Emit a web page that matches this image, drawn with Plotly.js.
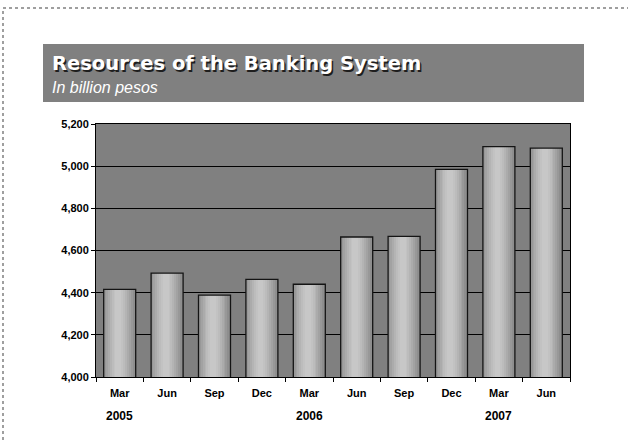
<!DOCTYPE html>
<html>
<head>
<meta charset="utf-8">
<script src="https://cdn.plot.ly/plotly-3.0.1.min.js"></script>
<style>
  html, body { margin: 0; padding: 0; background: #ffffff; }
  #chart { width: 628px; height: 442px; }
</style>
</head>
<body>
<div id="chart"></div>
<script>
// ---- Data ----
const months = ['Mar', 'Jun', 'Sep', 'Dec', 'Mar', 'Jun', 'Sep', 'Dec', 'Mar', 'Jun'];
const years = ['2005', '2005', '2005', '2005', '2006', '2006', '2006', '2006', '2007', '2007'];
const resources = [4416, 4493, 4388, 4463, 4440, 4664, 4667, 4985, 5093, 5086];
const yTickValues = [4000, 4200, 4400, 4600, 4800, 5000, 5200];
const chartTitle = 'Resources of the Banking System';
const chartSubtitle = 'In billion pesos';

// unique category keys (month + year)
const periods = months.map((m, i) => m + ' ' + years[i]);

// ---- Layout helpers (pixel -> paper) ----
const W = 628, H = 442;
const M = { l: 96, r: 58, t: 124, b: 65 };
const PW = W - M.l - M.r, PH = H - M.t - M.b;
const px = x => (x - M.l) / PW;
const py = y => (H - M.b - y) / PH;

// ---- Bars: layered to imitate the cylinder-like gradient ----
const layers = [
  { w: 0.675, c: '#8e8e8e' },
  { w: 0.60, c: '#989898' },
  { w: 0.52, c: '#a2a2a2' },
  { w: 0.44, c: '#ababab' },
  { w: 0.36, c: '#b4b4b4' },
  { w: 0.28, c: '#bcbcbc' },
  { w: 0.20, c: '#c2c2c2' },
  { w: 0.12, c: '#c7c7c7' }
];
const centerShift = -0.03;
const traces = layers.map((L, i) => {
  const off = i === 0 ? -0.3375 : centerShift - L.w / 2;
  return {
    type: 'bar',
    x: periods,
    y: resources,
    width: periods.map(() => L.w),
    offset: periods.map(() => off),
    marker: { color: L.c, line: { width: 0 } },
    hoverinfo: 'skip',
    showlegend: false
  };
});
// outline on top
traces.push({
  type: 'bar',
  x: periods,
  y: resources,
  width: periods.map(() => 0.675),
  offset: periods.map(() => -0.3375),
  marker: { color: 'rgba(0,0,0,0)', line: { width: 1.3, color: '#141414' } },
  hovertemplate: '%{y:,}<extra></extra>',
  showlegend: false
});

// ---- Year annotations under the first quarter of each year ----
const annotations = [];
years.forEach((yr, i) => {
  if (i === 0 || years[i - 1] !== yr) {
    annotations.push({
      xref: 'x', yref: 'paper',
      x: periods[i], y: py(416),
      text: yr, showarrow: false,
      xanchor: 'center', yanchor: 'middle',
      font: { family: 'Liberation Sans, Arial, sans-serif', size: 12, color: '#000', weight: 'bold' }
    });
  }
});
annotations.push({
  xref: 'paper', yref: 'paper', x: px(50), y: py(63),
  xanchor: 'left', yanchor: 'middle', showarrow: false,
  text: chartTitle,
  font: { family: 'DejaVu Sans, sans-serif', size: 19.5, color: '#ffffff', weight: 'bold', shadow: '1.5px 1.5px 0px #1e1e1e' }
});
annotations.push({
  xref: 'paper', yref: 'paper', x: px(50), y: py(88),
  xanchor: 'left', yanchor: 'middle', showarrow: false,
  text: chartSubtitle,
  font: { family: 'Liberation Sans, Arial, sans-serif', size: 16, color: '#ffffff', style: 'italic' }
});

const layout = {
  width: W, height: H,
  margin: M,
  paper_bgcolor: '#ffffff',
  plot_bgcolor: '#808080',
  barmode: 'overlay',
  bargap: 0,
  showlegend: false,
  font: { family: 'Liberation Sans, Arial, sans-serif', color: '#000' },
  xaxis: {
    type: 'category',
    categoryorder: 'array', categoryarray: periods,
    tickmode: 'array', tickvals: periods, ticktext: months,
    tickson: 'boundaries',
    ticks: 'outside', ticklen: 4, tickcolor: '#000', tickwidth: 1,
    showline: true, linecolor: '#000', linewidth: 1, mirror: true,
    showgrid: false, zeroline: false,
    range: [-0.5, periods.length - 0.5],
    tickfont: { family: 'Liberation Sans, Arial, sans-serif', size: 11, color: '#000', weight: 'bold' },
    ticklabelstandoff: 6,
    fixedrange: true
  },
  yaxis: {
    range: [4000, 5200],
    tickmode: 'array', tickvals: yTickValues,
    tickformat: ',d',
    ticks: 'outside', ticklen: 4, tickcolor: '#000', tickwidth: 1,
    showline: true, linecolor: '#000', linewidth: 1, mirror: true,
    showgrid: true, gridcolor: '#000', gridwidth: 1,
    zeroline: false,
    tickfont: { family: 'Liberation Sans, Arial, sans-serif', size: 11, color: '#000', weight: 'bold' },
    fixedrange: true
  },
  shapes: [
    { type: 'rect', xref: 'paper', yref: 'paper', layer: 'below',
      x0: px(3), x1: px(640), y0: py(8), y1: py(460),
      line: { color: '#808080', width: 1.5, dash: 'dot' }, fillcolor: 'rgba(0,0,0,0)' },
    { type: 'rect', xref: 'paper', yref: 'paper', layer: 'below',
      x0: px(43), x1: px(584), y0: py(44), y1: py(102),
      line: { width: 0 }, fillcolor: '#808080' }
  ],
  annotations: annotations
};

Plotly.newPlot('chart', traces, layout, { displayModeBar: false, staticPlot: true });
</script>
</body>
</html>
